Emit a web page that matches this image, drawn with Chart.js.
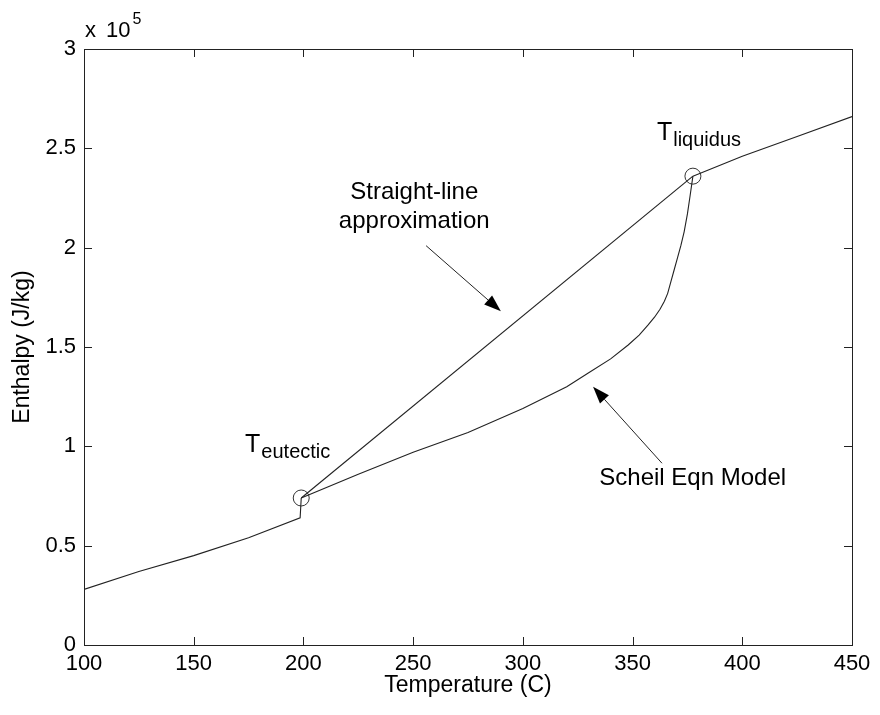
<!DOCTYPE html>
<html>
<head>
<meta charset="utf-8">
<script src="https://cdn.jsdelivr.net/npm/chart.js@4.4.1/dist/chart.umd.min.js"></script>
<style>
  html, body { margin: 0; padding: 0; background: #fff; }
  #wrap { width: 880px; height: 715px; }
</style>
</head>
<body>
<div id="wrap"><canvas id="enthalpyChart"></canvas></div>
<script>
// temperatures in C, enthalpy in units of 1e5 J/kg
const solidT = [100, 125, 150, 175, 198.5, 199];
const solidH = [0.28, 0.37, 0.45, 0.54, 0.64, 0.74];

const scheilT = [199, 225, 250, 275, 300, 320, 330, 340, 348, 353, 357, 360, 362.5, 364.5, 366, 367.5, 369, 370.5, 372, 373.5, 375, 376.2, 377.5];
const scheilH = [0.74, 0.86, 0.97, 1.07, 1.19, 1.30, 1.37, 1.44, 1.51, 1.56, 1.61, 1.65, 1.69, 1.73, 1.77, 1.83, 1.89, 1.95, 2.01, 2.08, 2.17, 2.26, 2.36];

const straightT = [199, 377.5];
const straightH = [0.74, 2.36];

const liquidT = [377.5, 400, 425, 450];
const liquidH = [2.36, 2.46, 2.56, 2.66];

const markerT = [199, 377.5];
const markerH = [0.74, 2.36];

const xTicks = [100, 150, 200, 250, 300, 350, 400, 450];
const yTicks = [0, 0.5, 1, 1.5, 2, 2.5, 3];

const FONT = "'Liberation Sans', Arial, Helvetica, sans-serif";
const INK = '#222';

function pts(xs, ys){
    return xs.map((x, i) => ({x: x, y: ys[i]}));
}

function lineSet(xs, ys){
    return {
        data: pts(xs, ys),
        borderColor: INK,
        borderWidth: 1.1,
        pointRadius: 0,
        tension: 0,
        fill: false
    };
}

// text + arrows, anchored in data coordinates
const notes = {
    straight: {x: 250.5, lines: [[2.28, 'Straight-line'], [2.13, 'approximation']]},
    scheil: {x: 377.4, y: 0.84, text: 'Scheil Eqn Model'},
    eutectic: {x: 173.4, y: 0.97},
    liquidus: {x: 361.1, y: 2.54},
    arrows: [
        {from: [255.9, 2.01], to: [290.0, 1.68]},
        {from: [363.4, 0.915], to: [332.0, 1.30]}
    ]
};

const MatlabFrame = {
    id: 'matlabFrame',
    afterDraw(chart){
        const {ctx, chartArea: a, scales: {x, y}} = chart;
        ctx.save();
        // box
        ctx.strokeStyle = INK;
        ctx.lineWidth = 1;
        ctx.strokeRect(a.left + 0.5, a.top + 0.5, a.right - a.left, a.bottom - a.top);
        // inward ticks on all four sides
        const tl = 8;
        ctx.beginPath();
        xTicks.forEach(v => {
            const px = Math.round(x.getPixelForValue(v)) + 0.5;
            ctx.moveTo(px, a.bottom); ctx.lineTo(px, a.bottom - tl);
            ctx.moveTo(px, a.top); ctx.lineTo(px, a.top + tl);
        });
        yTicks.forEach(v => {
            const py = Math.round(y.getPixelForValue(v)) + 0.5;
            ctx.moveTo(a.left, py); ctx.lineTo(a.left + tl, py);
            ctx.moveTo(a.right, py); ctx.lineTo(a.right - tl, py);
        });
        ctx.stroke();

        // x 10^5 multiplier
        ctx.fillStyle = '#000';
        ctx.textBaseline = 'alphabetic';
        ctx.textAlign = 'left';
        ctx.font = '22px ' + FONT;
        ctx.fillText('x', a.left + 1, a.top - 12);
        ctx.fillText('10', a.left + 22, a.top - 12);
        const w = ctx.measureText('10').width;
        ctx.font = '16px ' + FONT;
        ctx.fillText('5', a.left + 22 + w + 2, a.top - 25);

        // annotation text
        ctx.font = '24px ' + FONT;
        ctx.textAlign = 'center';
        ctx.textBaseline = 'middle';
        notes.straight.lines.forEach(([h, t]) => {
            ctx.fillText(t, x.getPixelForValue(notes.straight.x), y.getPixelForValue(h));
        });
        ctx.fillText(notes.scheil.text, x.getPixelForValue(notes.scheil.x), y.getPixelForValue(notes.scheil.y));

        function subLabel(pos, main, sub){
            const px = x.getPixelForValue(pos.x);
            const py = y.getPixelForValue(pos.y);
            ctx.textAlign = 'left';
            ctx.textBaseline = 'alphabetic';
            ctx.font = '25px ' + FONT;
            ctx.fillText(main, px, py);
            const mw = ctx.measureText(main).width;
            ctx.font = '20px ' + FONT;
            ctx.fillText(sub, px + mw + 1, py + 6);
        }
        subLabel(notes.eutectic, 'T', 'eutectic');
        subLabel(notes.liquidus, 'T', 'liquidus');

        // arrows
        notes.arrows.forEach(ar => {
            const x0 = x.getPixelForValue(ar.from[0]), y0 = y.getPixelForValue(ar.from[1]);
            const x1 = x.getPixelForValue(ar.to[0]), y1 = y.getPixelForValue(ar.to[1]);
            const ang = Math.atan2(y1 - y0, x1 - x0);
            const hl = 17, hw = 6;
            ctx.strokeStyle = INK;
            ctx.lineWidth = 1;
            ctx.beginPath();
            ctx.moveTo(x0, y0);
            ctx.lineTo(x1 - Math.cos(ang) * hl, y1 - Math.sin(ang) * hl);
            ctx.stroke();
            ctx.fillStyle = '#000';
            ctx.beginPath();
            ctx.moveTo(x1, y1);
            ctx.lineTo(x1 - Math.cos(ang) * hl - Math.sin(ang) * hw, y1 - Math.sin(ang) * hl + Math.cos(ang) * hw);
            ctx.lineTo(x1 - Math.cos(ang) * hl + Math.sin(ang) * hw, y1 - Math.sin(ang) * hl - Math.cos(ang) * hw);
            ctx.closePath();
            ctx.fill();
        });
        ctx.restore();
    }
};

const markerSet = {
    data: pts(markerT, markerH),
    showLine: false,
    pointStyle: 'circle',
    pointRadius: 8,
    pointBorderWidth: 1,
    pointBorderColor: '#333',
    pointBackgroundColor: 'rgba(0,0,0,0)',
    borderColor: '#333'
};

const chart = new Chart(document.getElementById('enthalpyChart'), {
    type: 'line',
    data: {
        datasets: [
            lineSet(solidT, solidH),
            lineSet(scheilT, scheilH),
            lineSet(straightT, straightH),
            lineSet(liquidT, liquidH),
            markerSet
        ]
    },
    options: {
        responsive: true,
        maintainAspectRatio: false,
        animation: false,
        events: [],
        layout: {padding: {top: 49, right: 28, left: 0, bottom: 0}},
        plugins: {
            legend: {display: false},
            tooltip: {enabled: false}
        },
        scales: {
            x: {
                type: 'linear',
                min: 100,
                max: 450,
                afterFit(scale){ scale.height = 70; },
                afterBuildTicks(scale){ scale.ticks = xTicks.map(v => ({value: v})); },
                grid: {display: false, drawTicks: false},
                border: {display: false},
                ticks: {
                    color: '#000',
                    padding: 6,
                    maxRotation: 0,
                    font: {family: FONT, size: 22},
                    callback: v => String(v)
                },
                title: {
                    display: true,
                    text: 'Temperature (C)',
                    color: '#000',
                    padding: {top: 0, bottom: 16},
                    font: {family: FONT, size: 23}
                }
            },
            y: {
                type: 'linear',
                min: 0,
                max: 3,
                afterFit(scale){ scale.width = 84; },
                afterBuildTicks(scale){ scale.ticks = yTicks.map(v => ({value: v})); },
                grid: {display: false, drawTicks: false},
                border: {display: false},
                ticks: {
                    color: '#000',
                    padding: 8,
                    font: {family: FONT, size: 22},
                    callback: v => String(v)
                },
                title: {
                    display: true,
                    text: 'Enthalpy (J/kg)',
                    color: '#000',
                    padding: {top: 9, bottom: 0},
                    font: {family: FONT, size: 23}
                }
            }
        }
    },
    plugins: [MatlabFrame]
});
</script>
</body>
</html>
